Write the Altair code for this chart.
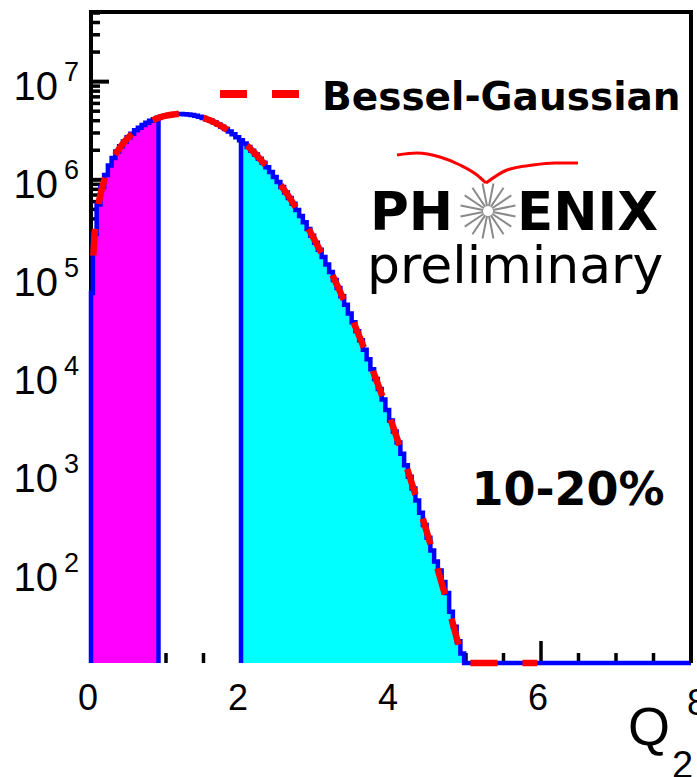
import altair as alt
import pandas as pd
import numpy as np

# ---------------- data ----------------
Y_MIN, Y_MAX = 12, 5.0e7
X_MIN, X_MAX = 0, 8
W, H = 600, 650

# histogram: first narrow bin [0, 0.025], then bins of width 0.05 centred on 0.05, 0.10, ... 5.00
BIN_WIDTH = 0.05
hist_counts = [7.05e4,
               2.82e5, 5.62e5, 8.43e5, 1.12e6, 1.40e6, 1.67e6, 1.94e6, 2.20e6, 2.46e6, 2.71e6,
               2.95e6, 3.19e6, 3.40e6, 3.62e6, 3.81e6, 3.99e6, 4.14e6, 4.28e6, 4.41e6, 4.50e6,
               4.58e6, 4.63e6, 4.67e6, 4.68e6, 4.66e6, 4.62e6, 4.56e6, 4.49e6, 4.39e6, 4.27e6,
               4.14e6, 3.99e6, 3.83e6, 3.66e6, 3.48e6, 3.30e6, 3.10e6, 2.92e6, 2.72e6, 2.53e6,
               2.34e6, 2.16e6, 1.98e6, 1.81e6, 1.64e6, 1.49e6, 1.34e6, 1.20e6, 1.07e6, 9.53e5,
               8.43e5, 7.43e5, 6.52e5, 5.69e5, 4.94e5, 4.28e5, 3.69e5, 3.16e5, 2.70e5, 2.29e5,
               1.94e5, 1.64e5, 1.37e5, 1.15e5, 9.53e4, 7.89e4, 6.51e4, 5.34e4, 4.36e4, 3.55e4,
               2.87e4, 2.32e4, 1.86e4, 1.49e4, 1.18e4, 9.37e3, 7.39e3, 5.80e3, 4.54e3, 3.53e3,
               2.74e3, 2.11e3, 1.62e3, 1.24e3, 946, 717, 542, 407, 305, 227,
               168, 130, 105, 80, 62, 40, 28, 20, 15, 8]
magenta_range = (0.0, 0.9)
cyan_range = (2.0, 5.0)

# Bessel-Gaussian fit curve
fit_x = ([0.03] + [round(0.05 * k, 2) for k in range(1, 101)]
         + [round(5.05 + 0.1 * k, 2) for k in range(10)])
fit_y = [1.69e5,
         2.82e5, 5.62e5, 8.43e5, 1.12e6, 1.40e6, 1.67e6, 1.94e6, 2.20e6, 2.46e6, 2.71e6,
         2.95e6, 3.19e6, 3.40e6, 3.62e6, 3.81e6, 3.99e6, 4.14e6, 4.28e6, 4.41e6, 4.50e6,
         4.58e6, 4.63e6, 4.67e6, 4.68e6, 4.66e6, 4.62e6, 4.56e6, 4.49e6, 4.39e6, 4.27e6,
         4.14e6, 3.99e6, 3.83e6, 3.66e6, 3.48e6, 3.30e6, 3.10e6, 2.92e6, 2.72e6, 2.53e6,
         2.34e6, 2.16e6, 1.98e6, 1.81e6, 1.64e6, 1.49e6, 1.34e6, 1.20e6, 1.07e6, 9.53e5,
         8.43e5, 7.43e5, 6.52e5, 5.69e5, 4.94e5, 4.28e5, 3.69e5, 3.16e5, 2.70e5, 2.29e5,
         1.94e5, 1.64e5, 1.37e5, 1.15e5, 9.53e4, 7.89e4, 6.51e4, 5.34e4, 4.36e4, 3.55e4,
         2.87e4, 2.32e4, 1.86e4, 1.49e4, 1.18e4, 9.37e3, 7.39e3, 5.80e3, 4.54e3, 3.53e3,
         2.74e3, 2.11e3, 1.62e3, 1.24e3, 946, 717, 542, 407, 305, 227,
         168, 124, 91.5, 67.0, 48.8, 35.5, 25.6, 18.4, 13.2, 9.4,
         6.7, 3.3, 1.6, 0.78, 0.37, 0.17, 0.078, 0.035, 0.016, 0.0068]

y_major = [1e2, 1e3, 1e4, 1e5, 1e6, 1e7]
y_exps = ["2", "3", "4", "5", "6", "7"]
x_major = [0, 2, 4, 6, 8]
x_labels = ["0", "2", "4", "6", "8"]

# ---------------- tables ----------------
edges = [0.0] + [round(0.025 + BIN_WIDTH * k, 3) for k in range(len(hist_counts))]


def bin_value_at(x):
    for i, v in enumerate(hist_counts):
        if edges[i] <= x < edges[i + 1]:
            return v
    return Y_MIN


def fill_df(lo, hi):
    rows = []
    for i, v in enumerate(hist_counts):
        a, b = edges[i], edges[i + 1]
        if b > lo + 1e-9 and a < hi - 1e-9:
            rows.append((max(a, lo), v))
    rows.append((hi, rows[-1][1]))
    return pd.DataFrame({"x": [r[0] for r in rows], "y": [r[1] for r in rows]})


mag_df = fill_df(*magenta_range)
cyan_df = fill_df(*cyan_range)

out_x = [0.0] + edges[:-1] + [edges[-1], X_MAX]
out_y = [Y_MIN] + hist_counts + [Y_MIN, Y_MIN]
outline_df = pd.DataFrame({"x": out_x, "y": out_y, "i": list(range(len(out_x)))})

bound_df = pd.DataFrame({
    "x": [magenta_range[1], cyan_range[0]],
    "y": [bin_value_at(magenta_range[1]), bin_value_at(cyan_range[0])],
})

fit_df = pd.DataFrame({"x": fit_x, "y": fit_y})

y_minor = [m * 10 ** e for e in range(1, 8) for m in range(2, 10) if Y_MIN <= m * 10 ** e <= Y_MAX]
x_minor = [v / 2 for v in range(1, 16) if (v / 2) not in x_major]

ymaj_df = pd.DataFrame({"v": y_major, "base": ["10"] * len(y_major), "exp": y_exps})
ymin_df = pd.DataFrame({"v": y_minor})
xmaj_df = pd.DataFrame({"v": x_major, "t": x_labels})
xmin_df = pd.DataFrame({"v": x_minor})
one = pd.DataFrame({"k": [0]})

xs = alt.Scale(domain=[X_MIN, X_MAX], nice=False, zero=False)
ys = alt.Scale(type="log", domain=[Y_MIN, Y_MAX], nice=False, clamp=True)


def X(f):
    return alt.X(f, type="quantitative", scale=xs, axis=None)


def Yq(f):
    return alt.Y(f, type="quantitative", scale=ys, axis=None)


BLUE, RED, MAG, CYAN = "#0000ff", "#ff0000", "#ff00ff", "#00ffff"

# ---------------- axes (drawn first, fills go over them) ----------------
ytick_major = alt.Chart(ymaj_df).mark_rule(color="black", strokeWidth=4).encode(
    y=Yq("v"), x=alt.value(0), x2=alt.value(18))
ytick_minor = alt.Chart(ymin_df).mark_rule(color="black", strokeWidth=3.5).encode(
    y=Yq("v"), x=alt.value(0), x2=alt.value(9))
xtick_major = alt.Chart(xmaj_df).mark_rule(color="black", strokeWidth=3.5).encode(
    x=X("v"), y=alt.value(H), y2=alt.value(H - 22))
xtick_minor = alt.Chart(xmin_df).mark_rule(color="black", strokeWidth=3.5).encode(
    x=X("v"), y=alt.value(H), y2=alt.value(H - 10))
left_line = alt.Chart(one).mark_rule(color="black", strokeWidth=4).encode(
    x=alt.value(0), y=alt.value(-1), y2=alt.value(H))
top_line = alt.Chart(one).mark_rule(color="black", strokeWidth=4).encode(
    x=alt.value(-2), x2=alt.value(W + 2), y=alt.value(-1))
right_line = alt.Chart(one).mark_rule(color="black", strokeWidth=4).encode(
    x=alt.value(W), y=alt.value(-1), y2=alt.value(H))

# ---------------- histogram ----------------
area_m = alt.Chart(mag_df).mark_area(interpolate="step-after", color=MAG, opacity=1).encode(
    x=X("x"), y=Yq("y"), y2=alt.datum(Y_MIN))
area_c = alt.Chart(cyan_df).mark_area(interpolate="step-after", color=CYAN, opacity=1).encode(
    x=X("x"), y=Yq("y"), y2=alt.datum(Y_MIN))
bounds = alt.Chart(bound_df).mark_rule(color=BLUE, strokeWidth=4.5).encode(
    x=X("x"), y=Yq("y"), y2=alt.datum(Y_MIN))
outline = alt.Chart(outline_df).mark_line(interpolate="step-after", color=BLUE, strokeWidth=4.5).encode(
    x=X("x"), y=Yq("y"), order=alt.Order("i:Q"))

fit = alt.Chart(fit_df).mark_line(interpolate="monotone", color=RED, strokeWidth=6.5,
                                  strokeDash=[27, 25]).encode(x=X("x"), y=Yq("y"))

# ---------------- labels ----------------
ylab = alt.Chart(ymaj_df).mark_text(font="Liberation Sans", fontSize=40, align="right",
                                     baseline="alphabetic", dy=18, color="black").encode(
    y=Yq("v"), x=alt.value(-33), text="base:N")
yexp = alt.Chart(ymaj_df).mark_text(font="Liberation Sans", fontSize=27, align="left",
                                     baseline="alphabetic", dy=-1, color="black").encode(
    y=Yq("v"), x=alt.value(-27), text="exp:N")
xlab = alt.Chart(xmaj_df[xmaj_df["v"] < X_MAX]).mark_text(
    font="Liberation Sans", fontSize=36, align="center",
    baseline="alphabetic", dx=-3, color="black").encode(
    x=X("v"), y=alt.value(697), text="t:N")
xlab_last = alt.Chart(xmaj_df[xmaj_df["v"] == X_MAX]).mark_text(
    font="Liberation Sans", fontSize=36, align="center",
    baseline="alphabetic", dx=6, color="black").encode(
    x=X("v"), y=alt.value(702), text="t:N")


def label(text, x, y, size, bold=False, font="DejaVu Sans", align="left", color="black"):
    return alt.Chart(pd.DataFrame({"t": [text]})).mark_text(
        font=font, fontSize=size, fontWeight="bold" if bold else "normal",
        align=align, baseline="alphabetic", color=color).encode(
        x=alt.value(x), y=alt.value(y), text="t:N")


q_title = label("Q", 579, 732, 54, font="Liberation Sans", align="right")
q_sub = label("2", 581, 765, 38, font="Liberation Sans")

leg_dash = alt.Chart(one).mark_rule(color=RED, strokeWidth=8, strokeDash=[27, 25]).encode(
    x=alt.value(129), x2=alt.value(209), y=alt.value(81))
leg_text = label("Bessel-Gaussian", 231, 97, 39, bold=True)

ph = label("PH", 279, 217, 53, bold=True)
enix = label("ENIX", 426, 217, 53, bold=True)
prelim = label("preliminary", 276, 270, 52)
cent = label("10-20%", 477, 492, 46, bold=True, align="center")

# PHENIX star (logo decoration, pixel space)
cx, cy, r_in, r_out = 397, 198, 5, 28
ang = np.deg2rad(np.arange(16) * 22.5 + 11.25)
star_df = pd.DataFrame({
    "x0": cx + r_in * np.cos(ang), "y0": cy + r_in * np.sin(ang),
    "x1": cx + r_out * np.cos(ang), "y1": cy + r_out * np.sin(ang),
})
star = alt.Chart(star_df).mark_rule(color="#8a8a8a", strokeWidth=2).encode(
    x=alt.X("x0:Q", scale=None), y=alt.Y("y0:Q", scale=None), x2="x1:Q", y2="y1:Q")

sw_left = pd.DataFrame({"px": [306, 326, 349, 369, 386, 395], "py": [142, 140, 144, 152, 162, 170]})
sw_right = pd.DataFrame({"px": [395, 416, 442, 464, 487], "py": [170, 157, 152, 150, 150]})
swoosh_l = alt.Chart(sw_left).mark_line(color=RED, strokeWidth=3, interpolate="monotone").encode(
    x=alt.X("px:Q", scale=None), y=alt.Y("py:Q", scale=None))
swoosh_r = alt.Chart(sw_right).mark_line(color=RED, strokeWidth=3, interpolate="monotone").encode(
    x=alt.X("px:Q", scale=None), y=alt.Y("py:Q", scale=None))

chart = alt.layer(
    ytick_minor, ytick_major, xtick_minor, xtick_major, left_line,
    area_m, area_c, bounds, outline, fit,
    top_line, right_line,
    ylab, yexp, xlab, xlab_last, q_title, q_sub,
    leg_dash, leg_text, ph, enix, prelim, cent, star, swoosh_l, swoosh_r,
).properties(
    width=W, height=H,
    padding={"left": 91, "top": 13, "right": 6, "bottom": 114},
    autosize=alt.AutoSizeParams(type="none"),
).configure_view(stroke=None)

chart.save("out.html", embed_options={"renderer": "svg", "actions": False})
